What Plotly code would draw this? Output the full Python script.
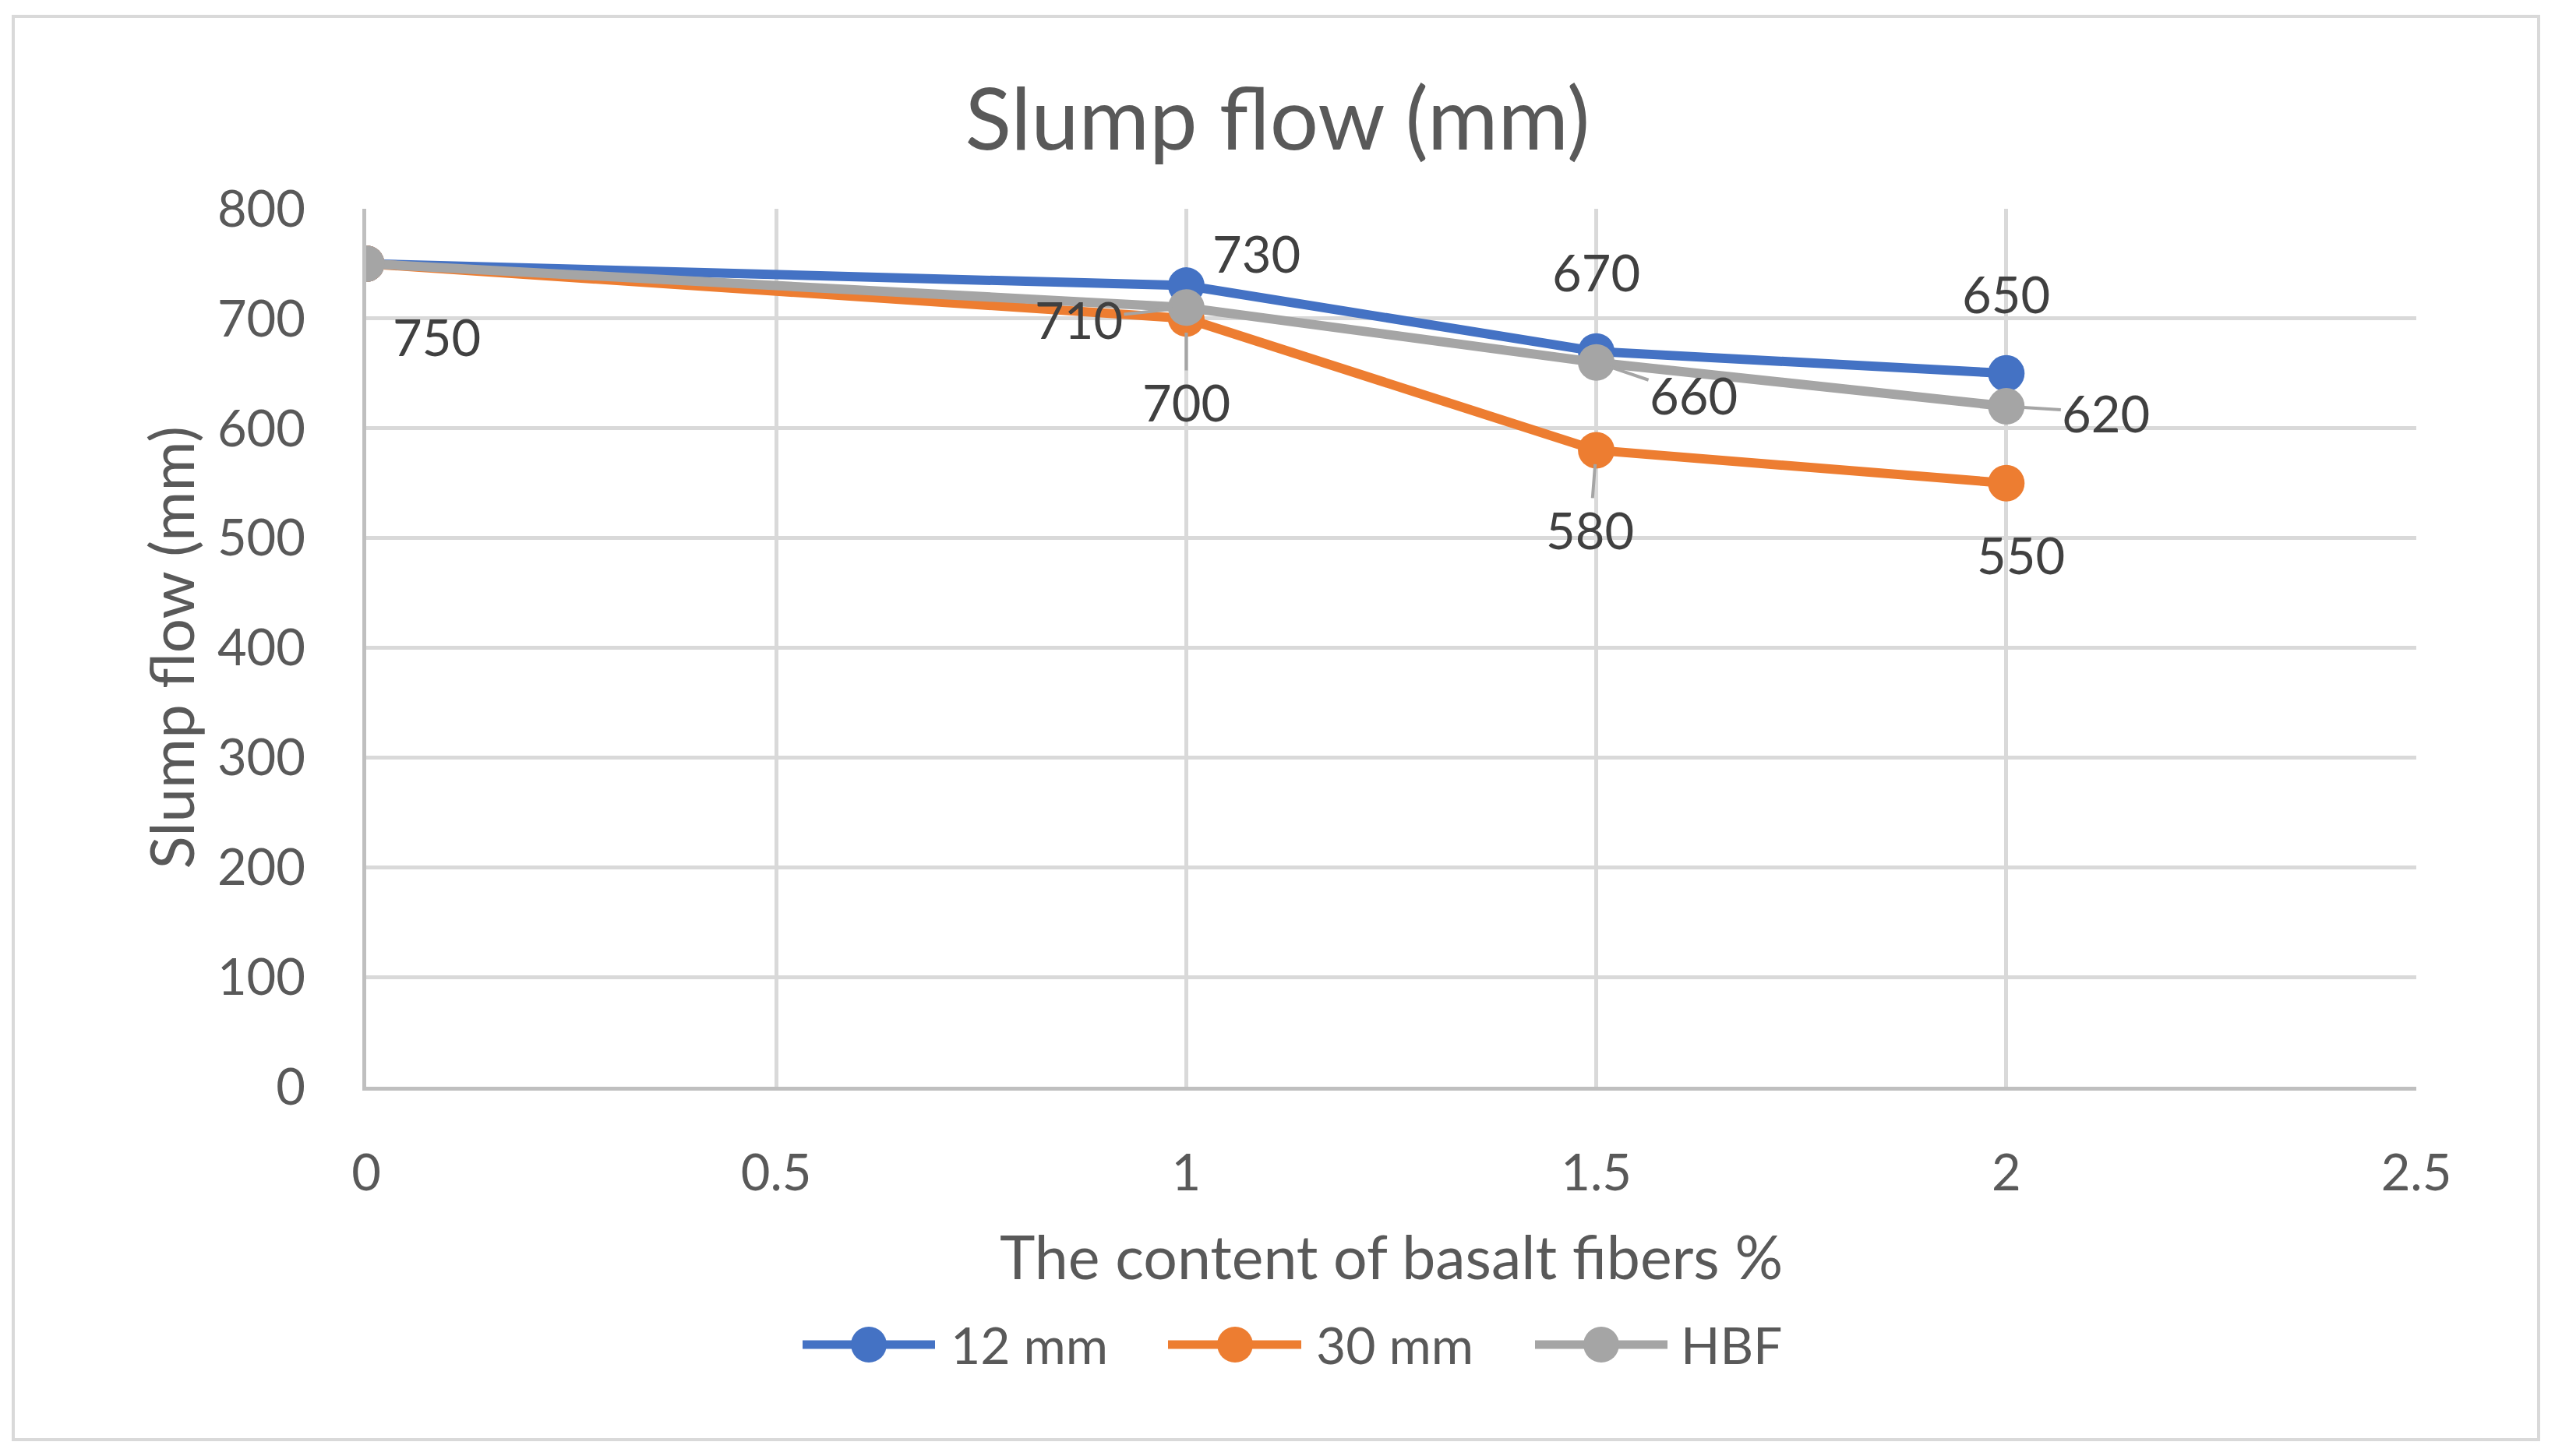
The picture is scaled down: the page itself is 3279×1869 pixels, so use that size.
import plotly.graph_objects as go

# ---- data ----
fiber_content = [0, 1, 1.5, 2]
series_names = ["12 mm", "30 mm", "HBF"]
slump_12mm = [750, 730, 670, 650]
slump_30mm = [750, 700, 580, 550]
slump_hbf = [750, 710, 660, 620]
y_ticks = [0, 100, 200, 300, 400, 500, 600, 700, 800]
x_ticks = [0, 0.5, 1, 1.5, 2, 2.5]

colors = ["#4472C4", "#ED7D31", "#A5A5A5"]
series_vals = [slump_12mm, slump_30mm, slump_hbf]

W, H = 3279, 1869
L, R, T, B = 470, 178, 268, 474
PW, PH = W - L - R, H - T - B
FONT = "Lato"

fig = go.Figure()
for name, vals, col in zip(series_names, series_vals, colors):
    fig.add_trace(go.Scatter(
        x=fiber_content, y=vals, name=name, mode="lines+markers",
        line=dict(color=col, width=12),
        marker=dict(color=col, size=47, line=dict(width=0)),
        showlegend=False,
    ))

# data labels: (series, point index, dx px, dy px (down positive), leader)
label_specs = [
    (0, 1, 90, -42, False), (0, 2, 0, -102, False), (0, 3, 0, -102, False),
    (1, 0, 90, 94, False), (1, 1, 0, 107, True), (1, 2, -8, 102, True), (1, 3, 19, 92, False),
    (2, 1, -138, 15, True), (2, 2, 125, 42, True), (2, 3, 128, 8, True),
]
for si, pi, dx, dy, leader in label_specs:
    xv = fiber_content[pi]
    yv = series_vals[si][pi]
    common = dict(x=xv, y=yv, xref="x", yref="y", text=str(yv),
                  font=dict(family=FONT, size=65, color="#404040"))
    if leader:
        fig.add_annotation(**common, showarrow=True, arrowhead=0, arrowwidth=4,
                           arrowcolor="#A5A5A5", ax=dx, ay=dy, standoff=18)
    else:
        fig.add_annotation(**common, showarrow=False, xshift=dx, yshift=-dy)

def px_x(p):
    return (p - L) / PW

def px_y(p):
    return (H - B - p) / PH

shapes = []
# outer chart border
shapes.append(dict(type="rect", xref="paper", yref="paper",
                   x0=px_x(17), x1=px_x(3258), y0=px_y(1848), y1=px_y(21),
                   line=dict(color="#D9D9D9", width=4), layer="below"))

# custom legend
leg_y = px_y(1726)
leg_items = [(1030, 1200, 1115, 1218), (1499, 1670, 1585, 1687), (1970, 2140, 2055, 2155)]
for (x0, x1, xm, xt), name, col in zip(leg_items, series_names, colors):
    shapes.append(dict(type="line", xref="paper", yref="paper",
                       x0=px_x(x0), x1=px_x(x1), y0=leg_y, y1=leg_y,
                       line=dict(color=col, width=11)))
    shapes.append(dict(type="circle", xref="paper", yref="paper",
                       x0=px_x(xm - 23), x1=px_x(xm + 23),
                       y0=leg_y - 23 / PH, y1=leg_y + 23 / PH,
                       fillcolor=col, line=dict(width=0)))
    fig.add_annotation(x=px_x(xt), y=leg_y, xref="paper", yref="paper",
                       text=name, showarrow=False, xanchor="left", yanchor="middle",
                       font=dict(family=FONT, size=66, color="#595959"))

# axis titles
fig.add_annotation(x=0.5, y=px_y(1612), xref="paper", yref="paper",
                   text="The content of basalt fibers %", showarrow=False,
                   xanchor="center", yanchor="middle",
                   font=dict(family=FONT, size=77, color="#595959"))
fig.add_annotation(x=px_x(218), y=0.5, xref="paper", yref="paper",
                   text="Slump flow (mm)", showarrow=False, textangle=-90,
                   xanchor="center", yanchor="middle",
                   font=dict(family=FONT, size=78, color="#595959"))

fig.update_layout(
    width=W, height=H,
    margin=dict(l=L, r=R, t=T, b=B),
    paper_bgcolor="white", plot_bgcolor="white",
    title=dict(text="Slump flow (mm)", x=0.5, xref="container", xanchor="center",
               y=1 - 153 / H, yref="container", yanchor="middle",
               font=dict(family=FONT, size=110, color="#595959")),
    shapes=shapes,
    showlegend=False,
    font=dict(family=FONT),
)
fig.update_xaxes(range=[0, 2.5], tickvals=x_ticks, ticktext=[str(v) for v in x_ticks],
                 showgrid=True, gridcolor="#D9D9D9", gridwidth=5,
                 showline=True, linecolor="#BFBFBF", linewidth=5, zeroline=False,
                 ticks="", ticklabelstandoff=50,
                 tickfont=dict(family=FONT, size=65, color="#595959"))
fig.update_yaxes(range=[0, 800], tickvals=y_ticks,
                 showgrid=True, gridcolor="#D9D9D9", gridwidth=5,
                 showline=True, linecolor="#BFBFBF", linewidth=5, zeroline=False,
                 ticks="", ticklabelstandoff=60,
                 tickfont=dict(family=FONT, size=65, color="#595959"))

fig.write_html("out.html")
